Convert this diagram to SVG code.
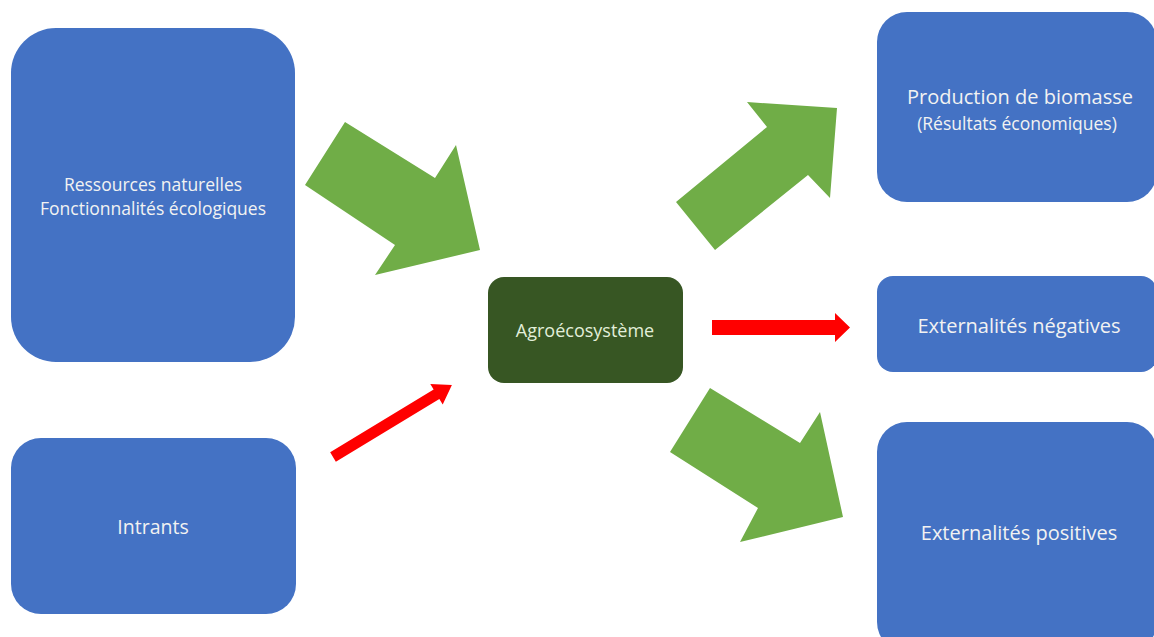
<svg xmlns="http://www.w3.org/2000/svg" width="1154" height="637" viewBox="0 0 1154 637">
<style>
.box{fill:#4472C4;}
.core{fill:#375623;}
.t{font-family:"Open Sans","Noto Sans","Liberation Sans",sans-serif;fill:#F2F2F2;text-anchor:middle;}
.tc{font-family:"Open Sans","Noto Sans","Liberation Sans",sans-serif;fill:#E2EFDA;text-anchor:middle;}
.g{fill:#70AD47;}
.r{fill:#FF0000;}
</style>
<rect width="1154" height="637" fill="#FFFFFF"/>
<g id="connectors">
<polygon class="g" points="345,122 435,178 456,145 480,250 375,275 395,245 305,185"/>
<polygon class="g" points="676,202 767,127 747,102 837,108 830,198 808,175 715,250"/>
<polygon class="g" points="710,388 800,443 820,412 843,517 740,542 758,508 670,452"/>
<polygon class="r" transform="translate(333,457) rotate(-31.2)" points="0,-5.5 121,-5.5 121,-12 139,0 121,12 121,5.5 0,5.5"/>
<polygon class="r" points="712,320 835,320 835,313 850,327.5 835,342 835,335 712,335"/>
</g>
<g id="ressources">
<rect class="box" x="11" y="28" width="284" height="334" rx="45" ry="45"/>
<text class="t" x="153" y="191" font-size="17.5">Ressources naturelles</text>
<text class="t" x="153" y="215" font-size="17.5">Fonctionnalités écologiques</text>
</g>
<g id="intrants">
<rect class="box" x="11" y="438" width="285" height="176" rx="30" ry="30"/>
<text class="t" x="153" y="534" font-size="19.5">Intrants</text>
</g>
<g id="agroecosysteme">
<rect class="core" x="488" y="277" width="195" height="106" rx="16" ry="16"/>
<text class="tc" x="585" y="337" font-size="18">Agroécosystème</text>
</g>
<g id="production">
<rect class="box" x="877" y="12" width="280" height="190" rx="30" ry="30"/>
<text class="t" x="1020" y="104" font-size="20">Production de biomasse</text>
<text class="t" x="1017" y="130" font-size="17.5">(Résultats économiques)</text>
</g>
<g id="negatives">
<rect class="box" x="877" y="276" width="280" height="96" rx="16" ry="16"/>
<text class="t" x="1019" y="333" font-size="20">Externalités négatives</text>
</g>
<g id="positives">
<rect class="box" x="877" y="422" width="280" height="230" rx="30" ry="30"/>
<text class="t" x="1019" y="540" font-size="20">Externalités positives</text>
</g>
</svg>
